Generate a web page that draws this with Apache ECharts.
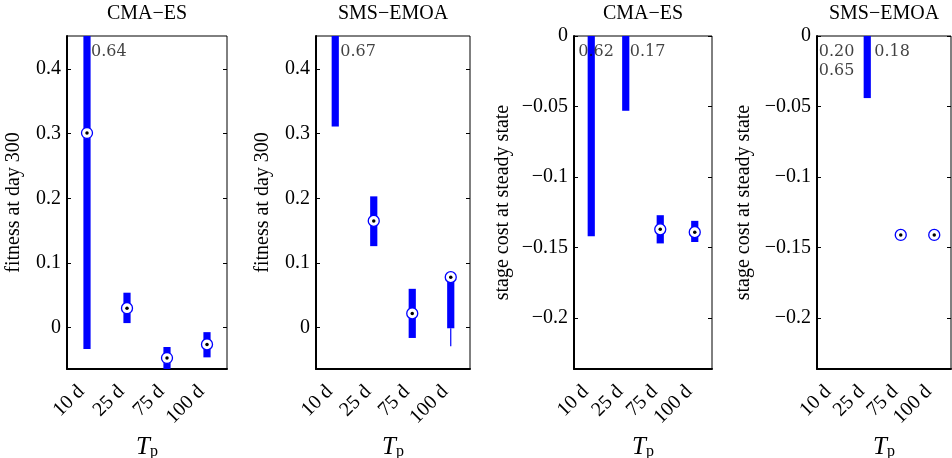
<!DOCTYPE html>
<html>
<head>
<meta charset="utf-8">
<title>CMA-ES vs SMS-EMOA</title>
<script src="https://cdn.jsdelivr.net/npm/echarts@6/dist/echarts.min.js"></script>
<style>
  html, body { margin: 0; padding: 0; background: #fff; }
  #chart { width: 952px; height: 458px; }
</style>
</head>
<body>
<div id="chart"></div>
<script>
var categories = ['10 d', '25 d', '75 d', '100 d'];
var titles = ['CMA−ES', 'SMS−EMOA', 'CMA−ES', 'SMS−EMOA'];
var yNames = ['fitness at day 300', 'fitness at day 300', 'stage cost at steady state', 'stage cost at steady state'];

// box ends (low / high), medians and lower whisker end, one array per panel
// values past the top of an axis get printed as text at the top
var cmaFitLow = [-0.033, 0.007, -0.072, -0.046];
var cmaFitHigh = [0.64, 0.054, -0.030, -0.007];
var cmaFitMed = [0.301, 0.030, -0.047, -0.026];
var cmaFitWhisk = [-0.033, 0.007, -0.072, -0.046];

var smsFitLow = [0.311, 0.126, -0.016, -0.001];
var smsFitHigh = [0.67, 0.203, 0.060, 0.078];
var smsFitMed = [null, 0.165, 0.022, 0.078];
var smsFitWhisk = [0.311, 0.126, -0.016, -0.029];

var cmaCostLow = [-0.142, -0.053, -0.147, -0.146];
var cmaCostHigh = [0.62, 0.17, -0.127, -0.131];
var cmaCostMed = [null, null, -0.137, -0.139];
var cmaCostWhisk = [-0.142, -0.053, -0.147, -0.146];

var smsCostLow = [0.20, -0.044, -0.141, -0.141];
var smsCostHigh = [0.65, 0.18, -0.141, -0.141];
var smsCostMed = [null, null, -0.141, -0.141];
var smsCostWhisk = [0.20, -0.044, -0.141, -0.141];

var fitTicks = [0, 0.1, 0.2, 0.3, 0.4];
var costTicks = [-0.2, -0.15, -0.1, -0.05, 0];

var panels = [
  { low: cmaFitLow, high: cmaFitHigh, med: cmaFitMed, whisk: cmaFitWhisk, ticks: fitTicks, min: -0.064, max: 0.451 },
  { low: smsFitLow, high: smsFitHigh, med: smsFitMed, whisk: smsFitWhisk, ticks: fitTicks, min: -0.064, max: 0.451 },
  { low: cmaCostLow, high: cmaCostHigh, med: cmaCostMed, whisk: cmaCostWhisk, ticks: costTicks, min: -0.236, max: 0 },
  { low: smsCostLow, high: smsCostHigh, med: smsCostMed, whisk: smsCostWhisk, ticks: costTicks, min: -0.236, max: 0 }
];

var FONT = "'Liberation Serif', 'Times New Roman', serif";
var BLUE = '#0000ff';
var gridBoxes = [
  { left: 67, width: 160 },
  { left: 316, width: 154 },
  { left: 574, width: 138 },
  { left: 817, width: 134 }
];
var yNameGaps = [43, 43, 61, 63];
// x shift (px) of the out-of-range text for each category
var overShift = [[4, 4, 4, 4], [5, 5, 5, 5], [-13, 4, 4, 4], [-15, 7, 7, 7]];

function minus(v) {
  return String(v).replace('-', '−');
}

function renderBox(params, api) {
  var cs = params.coordSys;
  var area = { x: cs.x, y: cs.y, width: cs.width, height: cs.height };
  var x = api.coord([api.value(0), 0])[0];
  var yLow = api.coord([api.value(0), api.value(1)])[1];
  var yHigh = api.coord([api.value(0), api.value(2)])[1];
  var yWhisk = api.coord([api.value(0), api.value(3)])[1];
  var children = [];
  var whisk = echarts.graphic.clipRectByRect({ x: x - 0.6, y: yLow, width: 1.2, height: yWhisk - yLow }, area);
  if (whisk && whisk.height > 0) {
    children.push({ type: 'rect', shape: whisk, style: { fill: BLUE } });
  }
  var box = echarts.graphic.clipRectByRect({ x: x - 3.6, y: yHigh, width: 7.2, height: yLow - yHigh }, area);
  if (box && box.height > 0) {
    children.push({ type: 'rect', shape: box, style: { fill: BLUE } });
  }
  return { type: 'group', children: children };
}

var grid = [], xAxis = [], yAxis = [], series = [];

panels.forEach(function (p, g) {
  grid.push({
    left: gridBoxes[g].left, top: 36, width: gridBoxes[g].width, height: 333,
    show: true, borderColor: '#000', borderWidth: 1, backgroundColor: 'transparent',
    containLabel: false, outerBoundsMode: 'none'
  });

  xAxis.push({
    type: 'category', gridIndex: g, position: 'bottom', data: categories,
    axisLine: { show: true, onZero: false, lineStyle: { color: '#000', width: 2 } },
    axisTick: { show: false },
    axisLabel: { interval: 0, rotate: 45, margin: 14, padding: [0, 8, 0, 0], fontFamily: FONT, fontSize: 20, color: '#000' },
    splitLine: { show: false },
    name: '{t|T}{p|p}', nameLocation: 'middle', nameGap: 59,
    nameTextStyle: {
      rich: {
        t: { fontFamily: FONT, fontStyle: 'italic', fontSize: 25, color: '#000' },
        p: { fontFamily: FONT, fontSize: 16, color: '#000', padding: [9, 0, 0, 0] }
      }
    }
  });
  xAxis.push({
    type: 'category', gridIndex: g, position: 'top', data: categories,
    axisLine: { show: false }, axisTick: { show: false }, axisLabel: { show: false },
    splitLine: { show: false },
    name: titles[g], nameLocation: 'middle', nameGap: 12,
    nameTextStyle: { fontFamily: FONT, fontSize: 20, color: '#000' }
  });

  yAxis.push({
    type: 'value', gridIndex: g, position: 'left', min: p.min, max: p.max,
    name: yNames[g], nameLocation: 'middle', nameGap: yNameGaps[g],
    nameTextStyle: { fontFamily: FONT, fontSize: 20, color: '#000' },
    axisLine: { show: true, onZero: false, lineStyle: { color: '#000', width: 2 } },
    axisTick: { show: true, inside: true, length: 4, customValues: p.ticks, lineStyle: { color: '#000' } },
    axisLabel: { customValues: p.ticks, margin: 6, fontFamily: FONT, fontSize: 20, color: '#000', formatter: minus },
    splitLine: { show: false }
  });
  yAxis.push({
    type: 'value', gridIndex: g, position: 'right', min: p.min, max: p.max,
    axisLine: { show: false },
    axisTick: { show: true, inside: true, length: 4, customValues: p.ticks, lineStyle: { color: '#000' } },
    axisLabel: { show: false },
    splitLine: { show: false }
  });

  var boxData = categories.map(function (c, i) {
    return [i, p.low[i], p.high[i], p.whisk[i]];
  });
  var medData = [];
  var overData = [];
  categories.forEach(function (c, i) {
    if (p.med[i] !== null) medData.push([i, p.med[i]]);
    var over = [p.low[i], p.high[i]].filter(function (v) { return v > p.max; });
    if (over.length) {
      overData.push({
        value: [i, p.max],
        text: over.map(function (v) { return v.toFixed(2); }).join('\n'),
        label: { position: [overShift[g][i], 6] }
      });
    }
  });

  series.push({
    type: 'custom', xAxisIndex: 2 * g, yAxisIndex: 2 * g,
    renderItem: renderBox, encode: { x: 0, y: [1, 2, 3] }, data: boxData, silent: true
  });
  series.push({
    type: 'scatter', xAxisIndex: 2 * g, yAxisIndex: 2 * g, data: medData,
    symbol: 'circle', symbolSize: 11,
    itemStyle: { color: '#fff', borderColor: BLUE, borderWidth: 1.3, opacity: 1 }, silent: true
  });
  series.push({
    type: 'scatter', xAxisIndex: 2 * g, yAxisIndex: 2 * g, data: medData,
    symbol: 'circle', symbolSize: 3.5,
    itemStyle: { color: '#000', opacity: 1 }, silent: true
  });
  series.push({
    type: 'scatter', xAxisIndex: 2 * g, yAxisIndex: 2 * g, data: overData,
    symbolSize: 0, clip: false, silent: true, z: 5,
    label: {
      show: true, align: 'left', verticalAlign: 'top',
      fontFamily: "'DejaVu Serif', serif", fontSize: 16, lineHeight: 19, color: '#111',
      formatter: function (prm) { return prm.data.text; }
    }
  });
});

var chart = echarts.init(document.getElementById('chart'));
chart.setOption({
  animation: false,
  backgroundColor: '#fff',
  grid: grid,
  xAxis: xAxis,
  yAxis: yAxis,
  series: series
});
</script>
</body>
</html>
